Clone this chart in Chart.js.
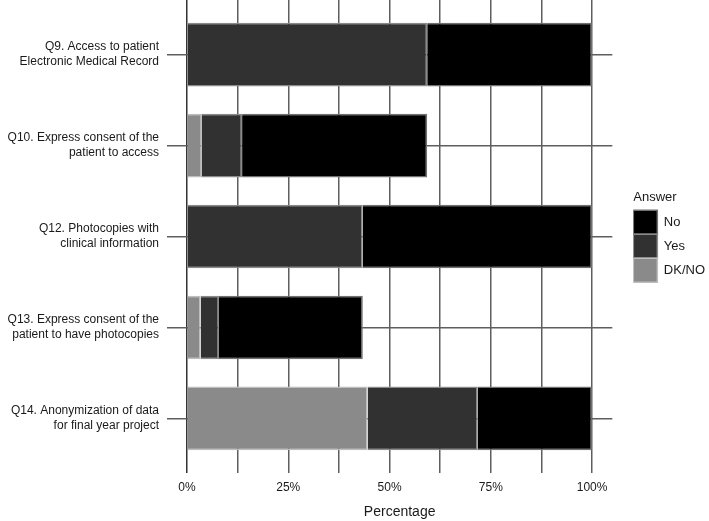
<!DOCTYPE html>
<html>
<head>
<meta charset="utf-8">
<script src="https://cdn.jsdelivr.net/npm/chart.js@4/dist/chart.umd.min.js"></script>
<style>
  html, body { margin: 0; padding: 0; background: #fff; }
  canvas { display: block; }
</style>
</head>
<body>
<canvas id="myChart" width="709" height="521"></canvas>
<script>
// questions, top to bottom
const questions = [
    ['Q9. Access to patient', 'Electronic Medical Record'],
    ['Q10. Express consent of the', 'patient to access'],
    ['Q12. Photocopies with', 'clinical information'],
    ['Q13. Express consent of the', 'patient to have photocopies'],
    ['Q14. Anonymization of data', 'for final year project']
];

// percentages
const dkno = [0, 3.7, 0, 3.4, 44.6];
const yes  = [59.3, 9.9, 43.4, 4.5, 27.2];
const no   = [40.7, 45.7, 56.6, 35.5, 28.2];

const xTicks = [0, 12.5, 25, 37.5, 50, 62.5, 75, 87.5, 100];

function toPoints(arr){
    return arr.map((v, i) => ({x: v, y: i}));
}

const ctx = document.getElementById('myChart').getContext('2d');

const config = {
    type: 'bar',
    data: {
        datasets: [
            {
                label: 'DK/NO',
                data: toPoints(dkno),
                backgroundColor: '#8a8a8a',
                borderColor: '#bdbdbd',
                borderWidth: 1.5
            },
            {
                label: 'Yes',
                data: toPoints(yes),
                backgroundColor: '#313131',
                borderColor: '#8a8a8a',
                borderWidth: 1.5
            },
            {
                label: 'No',
                data: toPoints(no),
                backgroundColor: '#000000',
                borderColor: '#707070',
                borderWidth: 1.5
            }
        ]
    },
    options: {
        indexAxis: 'y',
        responsive: false,
        animation: false,
        maintainAspectRatio: false,
        barPercentage: 0.7,
        categoryPercentage: 1,
        layout: { padding: { top: 0, right: -6, bottom: 0, left: 0 } },
        scales: {
            x: {
                type: 'linear',
                stacked: true,
                min: 0,
                max: 105,
                border: { display: false },
                afterBuildTicks: s => { s.ticks = xTicks.map(v => ({value: v})); },
                afterFit: s => { s.height = 48; },
                grid: {
                    color: c => (c.tick && c.tick.value === 0) ? '#333' : '#5e5e5e',
                    lineWidth: 1.5,
                    drawTicks: false,
                    tickLength: 0
                },
                ticks: {
                    padding: 7,
                    color: '#1a1a1a',
                    font: { family: 'Liberation Sans', size: 12 },
                    maxRotation: 0,
                    autoSkip: false,
                    callback: v => (v % 25 === 0 ? v + '%' : '')
                },
                title: {
                    display: true,
                    text: 'Percentage',
                    color: '#1a1a1a',
                    font: { family: 'Liberation Sans', size: 14 },
                    padding: { top: 2, bottom: 0 }
                }
            },
            y: {
                type: 'linear',
                stacked: true,
                reverse: true,
                offset: false,
                min: -0.6,
                max: 4.6,
                border: { display: false },
                afterBuildTicks: s => { s.ticks = questions.map((q, i) => ({value: i})); },
                afterFit: s => {
                    s.width = 187;
                    s.paddingTop = 0;
                    s.paddingBottom = 0;
                },
                grid: {
                    offset: false,
                    color: '#5e5e5e',
                    lineWidth: 1.5,
                    tickLength: 20,
                    tickColor: '#5e5e5e'
                },
                ticks: {
                    padding: 8,
                    color: '#1a1a1a',
                    font: { family: 'Liberation Sans', size: 12, lineHeight: 1.25 },
                    autoSkip: false,
                    callback: v => questions[v]
                }
            },
            // empty strip between the plot and the legend
            gap: {
                type: 'linear',
                position: 'right',
                axis: 'y',
                display: true,
                border: { display: false },
                grid: { display: false, drawTicks: false },
                ticks: { display: false },
                afterFit: s => {
                    s.width = 21;
                    s.paddingTop = 0;
                    s.paddingBottom = 0;
                }
            }
        },
        plugins: {
            tooltip: { enabled: false },
            legend: {
                position: 'right',
                align: 'center',
                fullSize: false,
                reverse: true,
                title: {
                    display: true,
                    text: 'Answer',
                    position: 'start',
                    color: '#1a1a1a',
                    font: { family: 'Liberation Sans', size: 13 },
                    padding: { top: 0, bottom: 4 }
                },
                labels: {
                    boxWidth: 24,
                    boxHeight: 24,
                    padding: 0,
                    color: '#1a1a1a',
                    font: { family: 'Liberation Sans', size: 13 }
                }
            }
        }
    }
};

const myChart = new Chart(ctx, config);
</script>
</body>
</html>
